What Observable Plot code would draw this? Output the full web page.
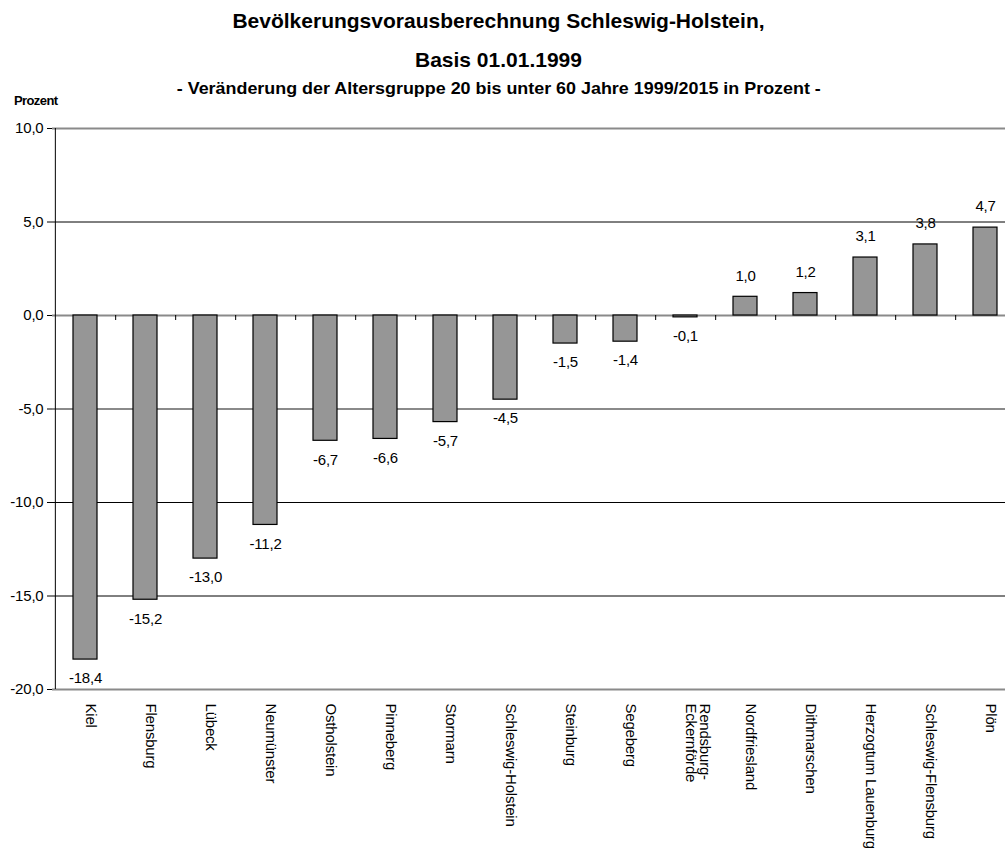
<!DOCTYPE html>
<html>
<head>
<meta charset="utf-8">
<script src="https://cdn.jsdelivr.net/npm/d3@7"></script>
<script src="https://cdn.jsdelivr.net/npm/@observablehq/plot@0.6"></script>
<style>
  html, body { margin: 0; padding: 0; background: white; overflow: hidden; }
  body { width: 1005px; height: 848px; position: relative; font-family: "Liberation Sans", Arial, sans-serif; }
  #head { position: relative; height: 110px; }
  .t { position: absolute; left: -4px; width: 1005px; text-align: center; font-weight: bold; color: #000; white-space: nowrap; }
  .t span { display: inline-block; transform-origin: center; }
  #t1 { top: 9px; font-size: 21px; letter-spacing: 0px; }
  #t2 { top: 48px; font-size: 21px; letter-spacing: 0px; }
  #t3 { top: 79px; font-size: 16.5px; }
  #t3 span { transform: scaleX(1.085); }
  #unit { position: absolute; left: 14px; top: 93px; font-size: 13px; font-weight: bold; letter-spacing: -0.6px; }
  #chart svg { display: block; overflow: visible; }
</style>
</head>
<body>
<div id="head">
  <div class="t" id="t1"><span>Bevölkerungsvorausberechnung Schleswig-Holstein,</span></div>
  <div class="t" id="t2"><span>Basis 01.01.1999</span></div>
  <div class="t" id="t3"><span>- Veränderung der Altersgruppe 20 bis unter 60 Jahre 1999/2015 in Prozent -</span></div>
  <div id="unit">Prozent</div>
</div>
<div id="chart"></div>
<script>
const regions = ["Kiel", "Flensburg", "Lübeck", "Neumünster", "Ostholstein", "Pinneberg", "Stormarn", "Schleswig-Holstein", "Steinburg", "Segeberg", "Rendsburg-\nEckernförde", "Nordfriesland", "Dithmarschen", "Herzogtum Lauenburg", "Schleswig-Flensburg", "Plön"];
const values = [-18.4, -15.2, -13.0, -11.2, -6.7, -6.6, -5.7, -4.5, -1.5, -1.4, -0.1, 1.0, 1.2, 3.1, 3.8, 4.7];
const yTicks = [-20, -15, -10, -5, 0, 5, 10];
const gridDark = [-15, -10, 5];
const gridGrey = [-20, -5, 0, 10];

const data = regions.map((r, i) => ({region: r, value: values[i]}));
const fmt = v => v.toFixed(1).replace(".", ",");

const left = 52, right = 1017;
const step = (right - left) / regions.length;

const chart = Plot.plot({
  width: 1005,
  height: 738,
  marginTop: 18,
  marginBottom: 159,
  marginLeft: left,
  marginRight: 0,
  style: {fontFamily: "'Liberation Sans', Arial, sans-serif", fontSize: "15px", background: "white", color: "black"},
  x: {domain: regions, range: [left, right], paddingInner: 0.6, paddingOuter: 0.3, axis: null},
  y: {domain: [-20, 10], ticks: yTicks, tickFormat: fmt, tickSize: 5, tickPadding: 4, label: null, axis: "left"},
  marks: [
    Plot.ruleY(gridDark, {stroke: "black", strokeWidth: 1}),
    Plot.ruleY(gridGrey, {stroke: "#8a8a8a", strokeWidth: 2}),
    Plot.barY(data, {x: "region", y: "value", fill: "#969696", stroke: "black", strokeWidth: 1.2}),
    Plot.ruleX(regions.slice(0, regions.length - 1), {x: d => d, y1: 0, y2: 0, dx: step / 2, insetBottom: -5, stroke: "black"}),
    Plot.ruleX([regions[0]], {x: d => d, y1: -20, y2: 10, dx: -step / 2, stroke: "black"}),
    Plot.text(data.filter(d => d.value < 0), {x: "region", y: "value", text: d => fmt(d.value), dy: 19, fontSize: 15, fill: "black"}),
    Plot.text(data.filter(d => d.value >= 0), {x: "region", y: "value", text: d => fmt(d.value), dy: -21, fontSize: 15, fill: "black"}),
    Plot.text(data, {x: "region", frameAnchor: "bottom", text: "region", rotate: 90, textAnchor: "start", dy: 14, fontSize: 15, lineHeight: 0.95, fill: "black"})
  ]
});
chart.querySelectorAll("text").forEach(t => t.style.letterSpacing = "-0.2px");
document.getElementById("chart").appendChild(chart);
</script>
</body>
</html>
